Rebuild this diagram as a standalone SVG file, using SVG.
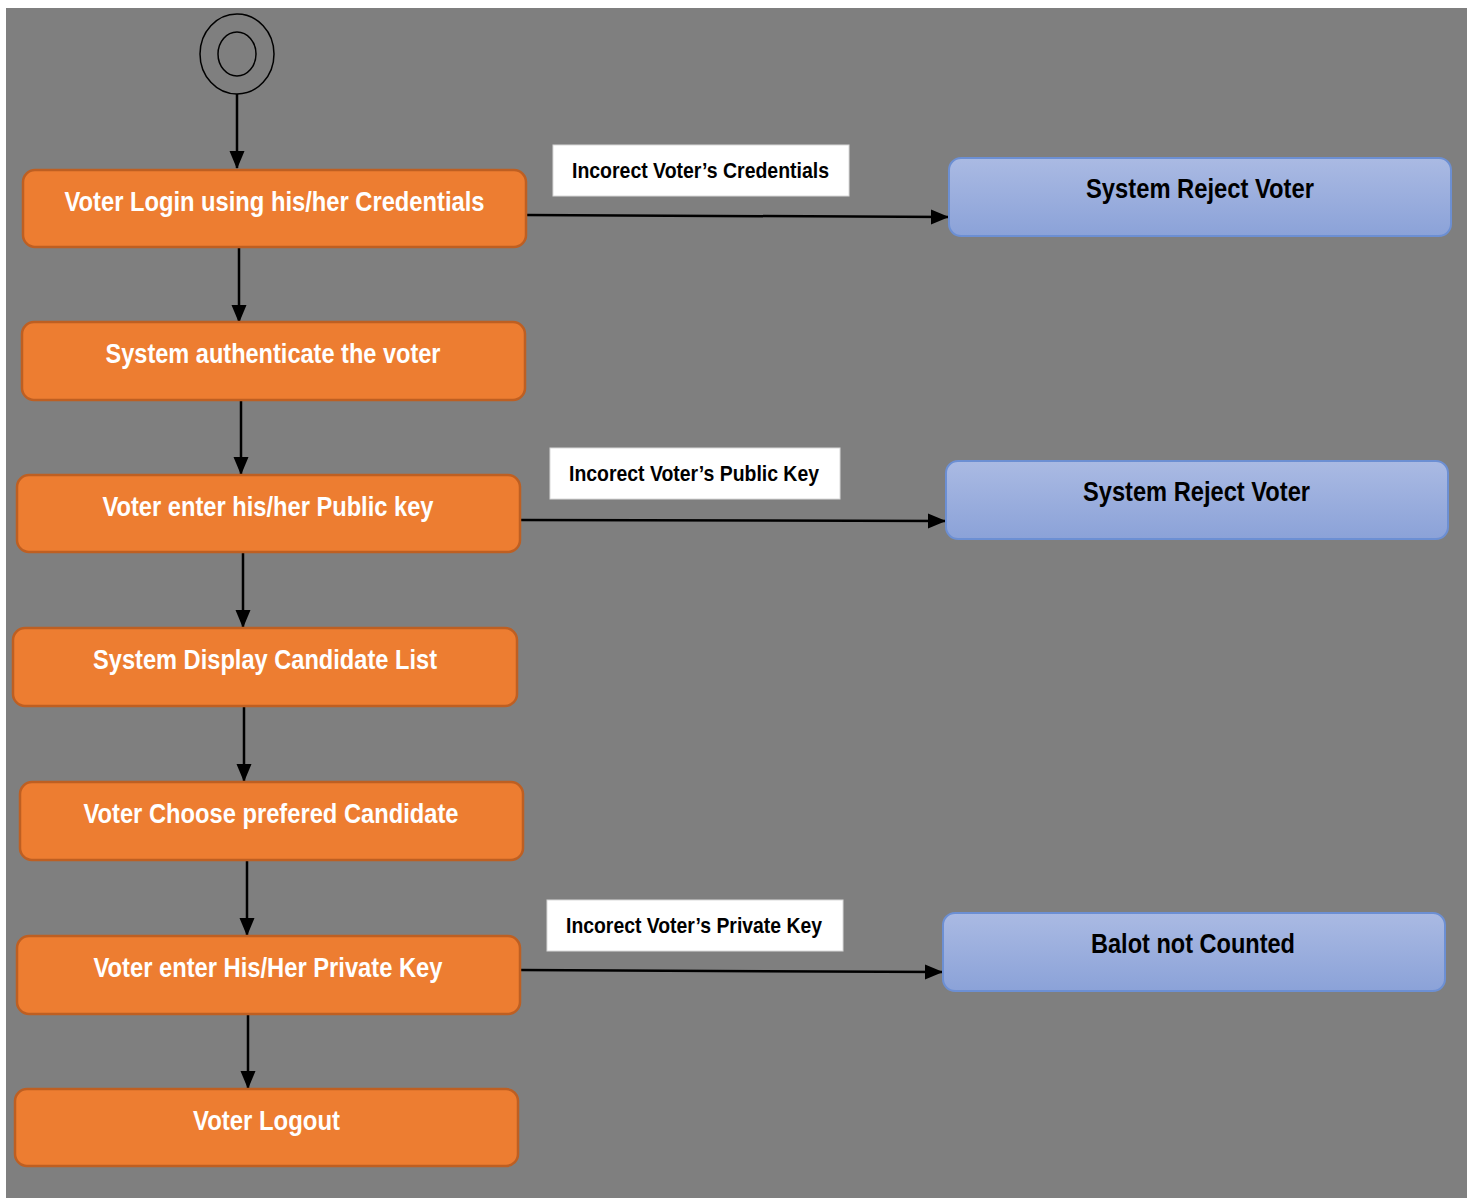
<svg xmlns="http://www.w3.org/2000/svg" width="1472" height="1198" viewBox="0 0 1472 1198">
  <style>
    .act { fill: #ED7D31; stroke: #BE5F22; stroke-width: 2.5; }
    .rej { fill: url(#blueGrad); stroke: #6C8FD3; stroke-width: 2; }
    .lbl { fill: #FFFFFF; stroke: #D9D9D9; stroke-width: 1; }
    .t { font-family: "Liberation Sans Narrow", "Liberation Sans", Arial, sans-serif; font-weight: bold; text-anchor: middle; }
    .ta { fill: #FFFFFF; font-size: 27px; }
    .tr { fill: #000000; font-size: 27px; }
    .tl { fill: #000000; font-size: 21.5px; }
    .edge { stroke: #000000; stroke-width: 2.5; fill: none; marker-end: url(#arrow); }
  </style>
  <defs>
    <linearGradient id="blueGrad" x1="0" y1="0" x2="0" y2="1">
      <stop offset="0" stop-color="#AABAE3"/>
      <stop offset="1" stop-color="#8BA2D8"/>
    </linearGradient>
    <marker id="arrow" markerUnits="userSpaceOnUse" markerWidth="18" markerHeight="18" viewBox="0 0 18 18" refX="17" refY="9" orient="auto">
      <path d="M0,1.5 L18,9 L0,16.5 Z" fill="#000000"/>
    </marker>
  </defs>

  <!-- canvas -->
  <rect x="0" y="0" width="1472" height="1198" fill="#FFFFFF"/>
  <rect x="6" y="8" width="1461" height="1190" fill="#7F7F7F"/>

  <!-- connectors -->
  <g id="connectors">
    <line class="edge" x1="237" y1="94" x2="237" y2="168"/>
    <line class="edge" x1="239" y1="248" x2="239" y2="322"/>
    <line class="edge" x1="241" y1="400" x2="241" y2="474"/>
    <line class="edge" x1="243" y1="552" x2="243" y2="627"/>
    <line class="edge" x1="244" y1="706" x2="244" y2="781"/>
    <line class="edge" x1="247" y1="860" x2="247" y2="935"/>
    <line class="edge" x1="248" y1="1014" x2="248" y2="1088"/>
    <line class="edge" x1="526" y1="215" x2="948" y2="217"/>
    <line class="edge" x1="520" y1="520" x2="945" y2="521"/>
    <line class="edge" x1="520" y1="970" x2="942" y2="972"/>
  </g>

  <!-- start state -->
  <g id="start">
    <ellipse cx="237" cy="54" rx="37" ry="40" fill="none" stroke="#000000" stroke-width="1.5"/>
    <ellipse cx="237" cy="54" rx="19" ry="22" fill="none" stroke="#000000" stroke-width="1.5"/>
  </g>

  <!-- main flow activities -->
  <g id="login">
    <rect class="act" x="23" y="170" width="503" height="77" rx="12"/>
    <text class="t ta" x="274.5" y="211" textLength="420" lengthAdjust="spacingAndGlyphs">Voter Login using his/her Credentials</text>
  </g>
  <g id="authenticate">
    <rect class="act" x="22" y="322" width="503" height="78" rx="12"/>
    <text class="t ta" x="273" y="363" textLength="335" lengthAdjust="spacingAndGlyphs">System authenticate the voter</text>
  </g>
  <g id="public-key">
    <rect class="act" x="17" y="475" width="503" height="77" rx="12"/>
    <text class="t ta" x="268" y="516" textLength="331" lengthAdjust="spacingAndGlyphs">Voter enter his/her Public key</text>
  </g>
  <g id="candidate-list">
    <rect class="act" x="13" y="628" width="504" height="78" rx="12"/>
    <text class="t ta" x="265" y="669" textLength="344" lengthAdjust="spacingAndGlyphs">System Display Candidate List</text>
  </g>
  <g id="choose">
    <rect class="act" x="20" y="782" width="503" height="78" rx="12"/>
    <text class="t ta" x="271" y="823" textLength="375" lengthAdjust="spacingAndGlyphs">Voter Choose prefered Candidate</text>
  </g>
  <g id="private-key">
    <rect class="act" x="17" y="936" width="503" height="78" rx="12"/>
    <text class="t ta" x="268" y="977" textLength="349" lengthAdjust="spacingAndGlyphs">Voter enter His/Her Private Key</text>
  </g>
  <g id="logout">
    <rect class="act" x="15" y="1089" width="503" height="77" rx="12"/>
    <text class="t ta" x="266.5" y="1130" textLength="147" lengthAdjust="spacingAndGlyphs">Voter Logout</text>
  </g>

  <!-- guard labels -->
  <g id="label-credentials">
    <rect class="lbl" x="553" y="145" width="296" height="51"/>
    <text class="t tl" x="700.5" y="178" textLength="257" lengthAdjust="spacingAndGlyphs">Incorect Voter’s Credentials</text>
  </g>
  <g id="label-public">
    <rect class="lbl" x="550" y="448" width="290" height="51"/>
    <text class="t tl" x="694" y="481" textLength="250" lengthAdjust="spacingAndGlyphs">Incorect Voter’s Public Key</text>
  </g>
  <g id="label-private">
    <rect class="lbl" x="547" y="900" width="296" height="51"/>
    <text class="t tl" x="694" y="933" textLength="256" lengthAdjust="spacingAndGlyphs">Incorect Voter’s Private Key</text>
  </g>

  <!-- rejection outcomes -->
  <g id="reject-credentials">
    <rect class="rej" x="949" y="158" width="502" height="78" rx="12"/>
    <text class="t tr" x="1200" y="198" textLength="228" lengthAdjust="spacingAndGlyphs">System Reject Voter</text>
  </g>
  <g id="reject-public">
    <rect class="rej" x="946" y="461" width="502" height="78" rx="12"/>
    <text class="t tr" x="1196.5" y="501" textLength="227" lengthAdjust="spacingAndGlyphs">System Reject Voter</text>
  </g>
  <g id="not-counted">
    <rect class="rej" x="943" y="913" width="502" height="78" rx="12"/>
    <text class="t tr" x="1193" y="953" textLength="204" lengthAdjust="spacingAndGlyphs">Balot not Counted</text>
  </g>
</svg>
